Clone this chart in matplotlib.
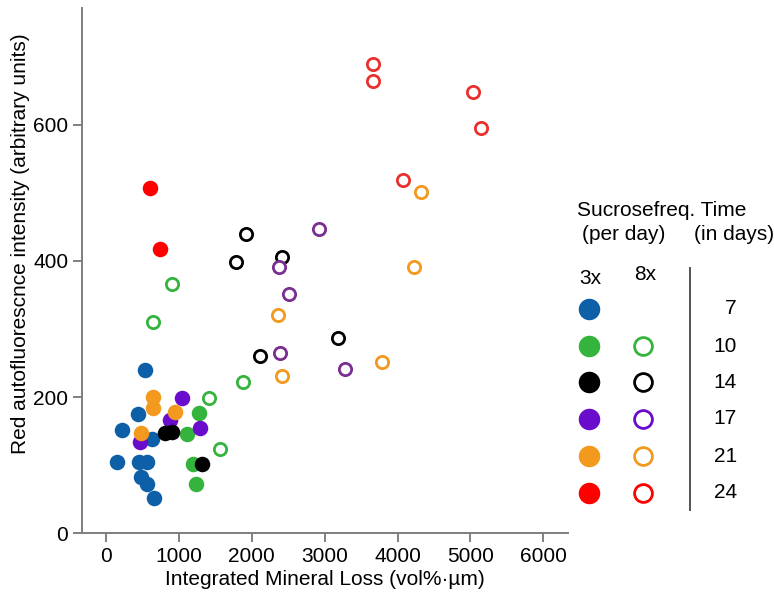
import matplotlib
matplotlib.use("Agg")
import matplotlib.pyplot as plt

plt.rcParams['font.family'] = ['Liberation Sans', 'DejaVu Sans']

# 3x per day (filled) and 8x per day (open), per time point in days
days = [7, 10, 14, 17, 21, 24]
colors_filled = ['#0d5fa8', '#34b43c', '#000000', '#6a0ccc', '#f2991e', '#ff0000']
colors_open = [None, '#34b43c', '#000000', '#7a2f90', '#f2991e', '#e8312f']
legend_open = [None, '#34b43c', '#000000', '#6a0ccc', '#f2991e', '#ff0000']

blue_x = [531, 443, 215, 627, 155, 457, 567, 476, 567, 654]
blue_y = [240, 175, 152, 139, 105, 105, 104, 82, 72, 51]

green3_x = [1271, 1107, 1198, 1230]
green3_y = [177, 145, 102, 72]
green8_x = [901, 640, 1408, 1875, 1568]
green8_y = [366, 310, 199, 222, 124]

black3_x = [805, 901, 1312]
black3_y = [147, 148, 101]
black8_x = [1920, 1783, 2419, 3178, 2112]
black8_y = [439, 399, 406, 286, 261]

purple3_x = [1043, 882, 466, 1294]
purple3_y = [198, 166, 134, 155]
purple8_x = [2922, 2378, 2515, 2391, 3274]
purple8_y = [447, 391, 352, 264, 241]

orange3_x = [645, 645, 951, 480]
orange3_y = [200, 184, 178, 147]
orange8_x = [4321, 4221, 2355, 2414, 3782]
orange8_y = [501, 391, 321, 231, 252]

red3_x = [604, 745]
red3_y = [507, 418]
red8_x = [3658, 3667, 5030, 5140, 4074]
red8_y = [689, 664, 649, 596, 519]

filled = [(blue_x, blue_y, 0), (green3_x, green3_y, 1), (purple3_x, purple3_y, 3),
          (orange3_x, orange3_y, 4), (black3_x, black3_y, 2), (red3_x, red3_y, 5)]
opened = [(green8_x, green8_y, 1), (black8_x, black8_y, 2), (purple8_x, purple8_y, 3),
          (orange8_x, orange8_y, 4), (red8_x, red8_y, 5)]

fs = 15

fig = plt.figure(figsize=(7.74, 6.01), dpi=100)
ax = fig.add_axes([0.106, 0.113, 0.628, 0.874])

for xs, ys, i in opened:
    ax.scatter(xs, ys, s=78, facecolors='white', edgecolors=colors_open[i],
               linewidths=2.0, zorder=2)
for xs, ys, i in filled:
    ax.scatter(xs, ys, s=125, color=colors_filled[i], linewidths=0, zorder=3)

ax.set_xlim(-330, 6340)
ax.set_ylim(0, 772)
ax.set_xticks([0, 1000, 2000, 3000, 4000, 5000, 6000])
ax.set_yticks([0, 200, 400, 600])
for s in ['top', 'right']:
    ax.spines[s].set_visible(False)
for s in ['left', 'bottom']:
    ax.spines[s].set_color('#7f7f7f')
    ax.spines[s].set_linewidth(1.4)
ax.tick_params(colors='#7f7f7f', labelcolor='black', labelsize=fs,
               length=6.5, width=1.4, pad=3.5)
ax.set_xlabel('Integrated Mineral Loss (vol%·µm)', fontsize=fs, labelpad=3)
ax.set_ylabel('Red autofluorescnce intensity (arbitrary units)', fontsize=fs)
ax.yaxis.set_label_coords(-0.107, 0.55)

# legend drawn in pixel coordinates on the right
lg = fig.add_axes([0, 0, 1, 1], facecolor='none')
lg.set_xlim(0, 774)
lg.set_ylim(601, 0)
lg.axis('off')
lg.text(577, 210, 'Sucrosefreq. Time', fontsize=fs, va='center', ha='left')
lg.text(582, 234, '(per day)', fontsize=fs, va='center', ha='left')
lg.text(694, 234, '(in days)', fontsize=fs, va='center', ha='left')
lg.text(590, 278, '3x', fontsize=fs, va='center', ha='center')
lg.text(645, 275, '8x', fontsize=fs, va='center', ha='center')
lg.plot([690, 690], [268, 510], color='#555555', lw=1.4)
row_y = [309, 346, 382, 419, 456, 493]
for i, d in enumerate(days):
    lg.scatter([589], [row_y[i]], s=240, color=colors_filled[i], linewidths=0)
    if legend_open[i] is not None:
        lg.scatter([643], [row_y[i]], s=165, facecolors='white',
                   edgecolors=legend_open[i], linewidths=2.0)
    lg.text(737, row_y[i], str(d), fontsize=fs, va='center', ha='right')

fig.savefig('out.png', dpi=100)
